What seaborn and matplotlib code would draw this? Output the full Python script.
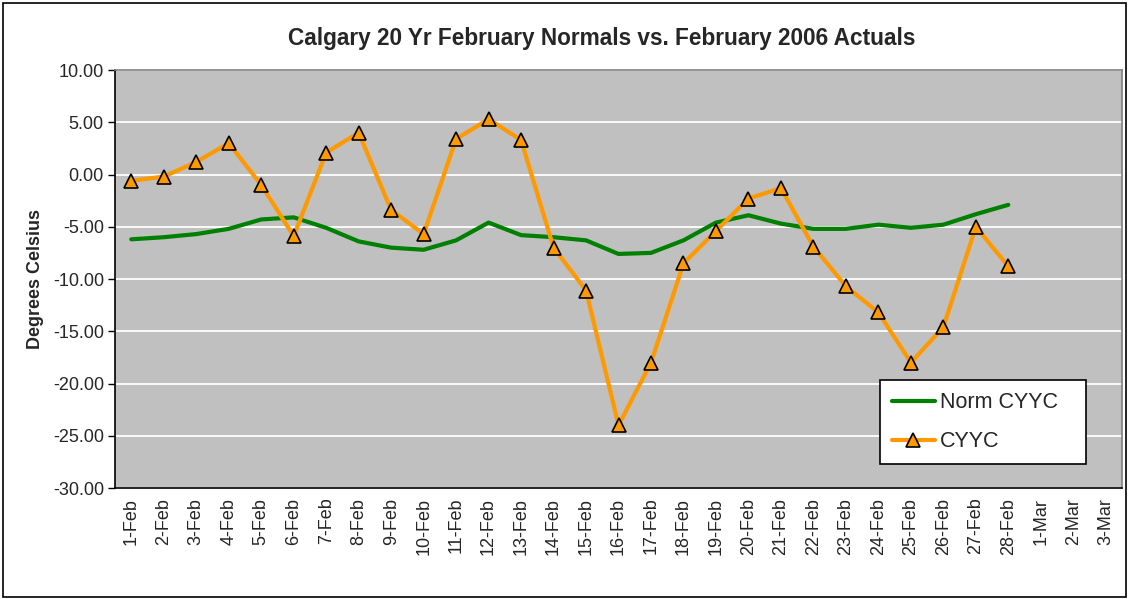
import matplotlib
matplotlib.use("Agg")
import matplotlib.pyplot as plt
import seaborn as sns
import pandas as pd
import numpy as np
from matplotlib.patches import Rectangle
from matplotlib.ticker import FormatStrFormatter, FixedLocator

days = [f"{d}-Feb" for d in range(1, 29)] + ["1-Mar", "2-Mar", "3-Mar"]
norm_cyyc = [-6.2, -6.0, -5.7, -5.2, -4.3, -4.1, -5.1, -6.4, -7.0, -7.2,
             -6.3, -4.6, -5.8, -6.0, -6.3, -7.6, -7.5, -6.3, -4.6, -3.9,
             -4.7, -5.2, -5.2, -4.8, -5.1, -4.8, -3.8, -2.9]
cyyc = [-0.6, -0.2, 1.2, 3.0, -1.0, -5.9, 2.1, 4.0, -3.4, -5.7,
        3.4, 5.3, 3.3, -7.0, -11.1, -24.0, -18.0, -8.5, -5.4, -2.3,
        -1.3, -6.9, -10.7, -13.2, -18.0, -14.6, -5.0, -8.8]

sns.set_style("white")
plt.rcParams['font.family'] = ['Liberation Sans', 'DejaVu Sans']

fig = plt.figure(figsize=(11.29, 5.99), dpi=100)
fig.patches.append(Rectangle((0.003, 0.003), 0.994, 0.992, transform=fig.transFigure,
                             fill=False, edgecolor='black', linewidth=1.2))
ax = fig.add_axes([0.1019, 0.1853, 0.8919, 0.6978])
ax.set_facecolor('#C0C0C0')

df_n = pd.DataFrame({"x": np.arange(len(norm_cyyc)), "y": norm_cyyc})
df_c = pd.DataFrame({"x": np.arange(len(cyyc)), "y": cyyc})

sns.lineplot(data=df_n, x="x", y="y", ax=ax, color='#008000', linewidth=3,
             label="Norm CYYC", zorder=3)
sns.lineplot(data=df_c, x="x", y="y", ax=ax, color='#FF9900', linewidth=3,
             marker='^', markersize=10, markerfacecolor='#FF9900',
             markeredgecolor='black', markeredgewidth=1.2, label="CYYC", zorder=4)

ax.set_xlim(-0.5, len(days) - 0.5)
ax.set_ylim(-30, 10)
ax.set_yticks(np.arange(-30, 10.1, 5))
ax.yaxis.set_major_formatter(FormatStrFormatter('%.2f'))
ax.grid(axis='y', color='white', linewidth=1.3)
ax.grid(axis='x', visible=False)
ax.set_axisbelow(True)

ax.set_xticks(np.arange(len(days)))
ax.set_xticklabels(days, rotation=90, fontsize=13)
ax.xaxis.set_minor_locator(FixedLocator(np.arange(-0.5, len(days), 1)))
ax.tick_params(axis='x', which='major', length=0, pad=7)
ax.tick_params(axis='x', which='minor', length=5, direction='inout', color='black', width=1)
ax.tick_params(axis='y', which='major', length=5, direction='out', color='black',
               width=1, labelsize=13, left=True, pad=3)

for s in ['left', 'bottom']:
    ax.spines[s].set_color('black')
    ax.spines[s].set_linewidth(1.2)
for s in ['top', 'right']:
    ax.spines[s].set_color('#808080')
    ax.spines[s].set_linewidth(1.2)

ax.set_xlabel("")
ax.set_ylabel("Degrees Celsius", fontsize=13, fontweight='bold', labelpad=6)
fig.text(602 / 1129, 1 - 38 / 599, "Calgary 20 Yr February Normals vs. February 2006 Actuals",
         ha='center', va='center', fontsize=16.3, fontweight='bold')

leg = ax.legend(loc='lower left', bbox_to_anchor=(0.7597, 0.057, 0.2046, 0.203), mode='expand',
                fontsize=15.5, frameon=True, fancybox=False, framealpha=1,
                edgecolor='black', handlelength=2.0, handletextpad=0.25,
                borderpad=0.55, labelspacing=0.85, borderaxespad=0)
leg.get_frame().set_linewidth(1.2)

fig.savefig("out.png", dpi=100)
